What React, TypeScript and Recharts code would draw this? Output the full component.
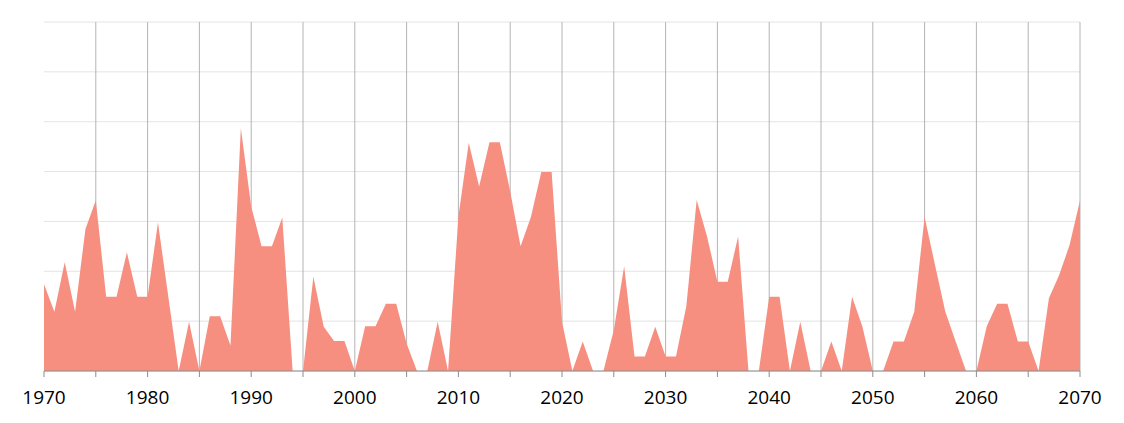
import React from 'react';
import { AreaChart, Area, XAxis, YAxis, CartesianGrid } from 'recharts';

// ─── Data ─────────────────────────────────────────────────────────────────────

const startYear = 1970;

const values: number[] = [
    17.4, 11.9, 21.8, 11.9, 28.5, 34.2, 14.9, 14.9, 23.8, 14.9, // 1970-1979
    14.9, 29.8, 14.9, 0, 9.9, 0, 11, 11, 5.1, 48.7, // 1980-1989
    33, 25, 25, 30.8, 0, 0, 18.9, 8.9, 6, 6, // 1990-1999
    0, 9, 9, 13.5, 13.5, 5.5, 0, 0, 9.9, 0, // 2000-2009
    31, 45.8, 37, 45.9, 45.9, 36, 25, 30.9, 39.9, 39.9, // 2010-2019
    9.9, 0, 5.9, 0, 0, 8.2, 21, 2.9, 2.9, 8.9, // 2020-2029
    2.9, 2.9, 13, 34.3, 27, 17.9, 17.9, 27, 0, 0, // 2030-2039
    14.9, 14.9, 0, 9.9, 0, 0, 5.9, 0, 14.9, 8.9, // 2040-2049
    0, 0, 5.9, 5.9, 11.9, 30.9, 21.3, 11.9, 5.9, 0, // 2050-2059
    0, 9, 13.5, 13.5, 5.9, 5.9, 0, 14.6, 19.3, 25.3, // 2060-2069
    34.2, // 2070
];

const xTicks = [
    1970, 1975, 1980, 1985, 1990, 1995, 2000, 2005, 2010, 2015, 2020,
    2025, 2030, 2035, 2040, 2045, 2050, 2055, 2060, 2065, 2070,
];

const yTicks = [0, 10, 20, 30, 40, 50, 60, 70];

const data = values.map((v, i) => ({ year: startYear + i, value: v }));

// ─── Year tick (label only every 10 years) ───────────────────────────────────

const YearTick = ({ x, y, payload }: any) => {
    if (payload.value % 10 !== 0) return null;
    return (
        <text
            x={x}
            y={y + 14}
            textAnchor="middle"
            fill="#000"
            style={{ fontSize: 19, fontFamily: 'Open Sans' }}
        >
            {payload.value}
        </text>
    );
};

// ─── Component ────────────────────────────────────────────────────────────────

export default function App() {
    return (
        <div style={{ position: 'absolute', left: 0, top: 0, width: 1124, height: 423, background: '#fff' }}>
            <AreaChart
                width={1124}
                height={423}
                data={data}
                margin={{ top: 22, right: 44, left: 44, bottom: 12 }}
            >
                {/* light horizontal lines */}
                <CartesianGrid
                    stroke="#e4e4e4"
                    vertical={false}
                    horizontalCoordinatesGenerator={({ offset }: any) =>
                        yTicks.map((t) => offset.top + offset.height * (1 - t / 70))
                    }
                />
                {/* darker vertical lines every 5 years, not at the left edge */}
                <CartesianGrid
                    stroke="#b4b4b4"
                    horizontal={false}
                    verticalCoordinatesGenerator={({ offset }: any) =>
                        xTicks.slice(1).map((t) => offset.left + ((t - 1970) / 100) * offset.width)
                    }
                />
                <XAxis
                    dataKey="year"
                    type="number"
                    domain={[1970, 2070]}
                    ticks={xTicks}
                    interval={0}
                    height={40}
                    tickSize={6}
                    tickMargin={13}
                    axisLine={{ stroke: '#8c8c8c' }}
                    tickLine={{ stroke: '#8c8c8c' }}
                    tick={<YearTick />}
                />
                <YAxis
                    domain={[0, 70]}
                    ticks={yTicks}
                    width={0}
                    tick={false}
                    tickLine={false}
                    axisLine={{ stroke: '#e4e4e4' }}
                />
                <Area
                    type="linear"
                    dataKey="value"
                    stroke="none"
                    fill="#f68f80"
                    fillOpacity={1}
                    dot={false}
                    activeDot={false}
                    isAnimationActive={false}
                />
            </AreaChart>
        </div>
    );
}
